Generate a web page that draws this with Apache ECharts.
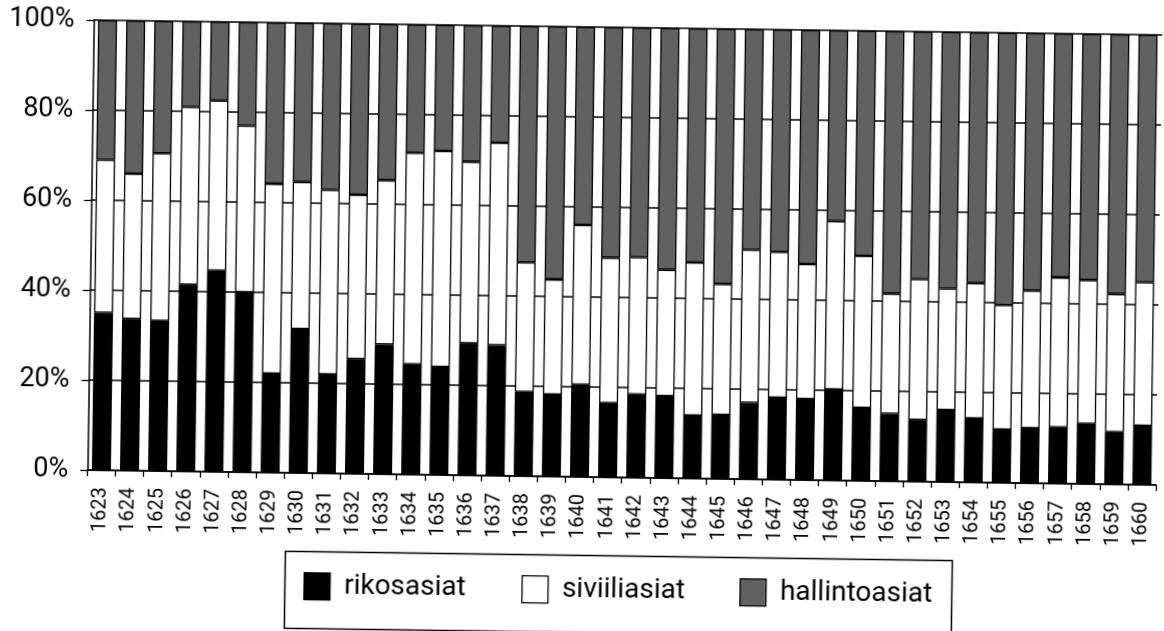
<!DOCTYPE html>
<html>
<head>
<meta charset="utf-8">
<script src="https://cdn.jsdelivr.net/npm/echarts@6/dist/echarts.min.js"></script>
<style>
html,body{margin:0;padding:0;background:#fff;overflow:hidden;}
#wrap{width:1164px;height:631px;transform:rotate(0.8deg);transform-origin:86px 470px;}
#chart{width:1164px;height:631px;}
</style>
</head>
<body>
<div id="wrap"><div id="chart"></div></div>
<script>
const years = ['1623','1624','1625','1626','1627','1628','1629','1630','1631','1632','1633','1634','1635','1636','1637','1638','1639','1640','1641','1642','1643','1644','1645','1646','1647','1648','1649','1650','1651','1652','1653','1654','1655','1656','1657','1658','1659','1660'];
const rikosasiat = [35,33.7,33.4,41.5,44.7,40,22,32,22,25.5,28.8,24.5,24,29.3,29,18.7,18.2,20.5,16.5,18.5,18.2,14,14.2,17,18.2,18,20.2,16.2,15,13.7,16,14.2,11.8,12.2,12.5,13.4,11.6,13.1];
const siviiliasiat = [34,32.3,37.2,39.5,37.8,37,42.2,32.7,41,36.5,36.5,47,48,40.4,45,28.8,25.6,35.5,32.3,30.5,28.1,34,29.1,34,32.4,30,37.4,33.8,26.7,31.3,27,30.1,27.7,30.6,33.3,31.9,30.7,31.9];
const hallintoasiat = [31,34,29.4,19,17.5,23,35.8,35.3,37,38,34.7,28.5,28,30.3,26,52.5,56.2,44,51.2,51,53.7,52,56.7,49,49.4,52,42.4,50,58.3,55,57,55.7,60.5,57.2,54.2,54.7,57.7,55];
const seriesNames = ['rikosasiat','siviiliasiat','hallintoasiat'];

const FONT = 'Roboto';
const chart = echarts.init(document.getElementById('chart'), null, {renderer:'canvas'});

const legendCommon = {
  orient:'horizontal', padding:0, itemWidth:26, itemHeight:27, icon:'rect',
  selectedMode:false,
  itemStyle:{borderColor:'#000', borderWidth:1.3},
  textStyle:{fontSize:28, fontFamily:FONT, color:'#000', padding:[0,0,0,9]}
};

function barSeries(name, data, color){
  return {
    name, type:'bar', stack:'total', data, barWidth:19,
    itemStyle:{color, borderColor:'#000', borderWidth:1.3},
    emphasis:{disabled:true}
  };
}

chart.setOption({
  animation:false,
  backgroundColor:'#fff',
  grid:{left:86, right:8, top:20, bottom:161, containLabel:false},
  xAxis:{
    type:'category', data:years,
    axisLine:{lineStyle:{color:'#000', width:1.5}},
    axisTick:{show:true, length:6, lineStyle:{color:'#000', width:1.3}},
    axisLabel:{interval:0, rotate:90, fontSize:20, fontFamily:FONT, color:'#000', margin:17}
  },
  yAxis:{
    type:'value', min:0, max:100, interval:20,
    axisLine:{show:true, lineStyle:{color:'#000', width:1.5}},
    axisTick:{show:true, length:7, lineStyle:{color:'#000', width:1.3}},
    axisLabel:{formatter:'{value}%', fontSize:27, fontFamily:FONT, color:'#000', margin:19},
    splitLine:{show:true, lineStyle:{color:'#000', width:1.5}}
  },
  legend:[
    Object.assign({data:[seriesNames[0]], left:305, top:569}, legendCommon),
    Object.assign({data:[seriesNames[1]], left:523, top:569}, legendCommon),
    Object.assign({data:[seriesNames[2]], left:741, top:569}, legendCommon)
  ],
  graphic:[{
    type:'rect', left:284, top:546,
    shape:{width:667, height:77},
    style:{fill:null, stroke:'#000', lineWidth:1.5},
    silent:true
  }],
  series:[
    barSeries(seriesNames[0], rikosasiat, '#000000'),
    barSeries(seriesNames[1], siviiliasiat, '#ffffff'),
    barSeries(seriesNames[2], hallintoasiat, '#616161')
  ]
});
</script>
</body>
</html>
